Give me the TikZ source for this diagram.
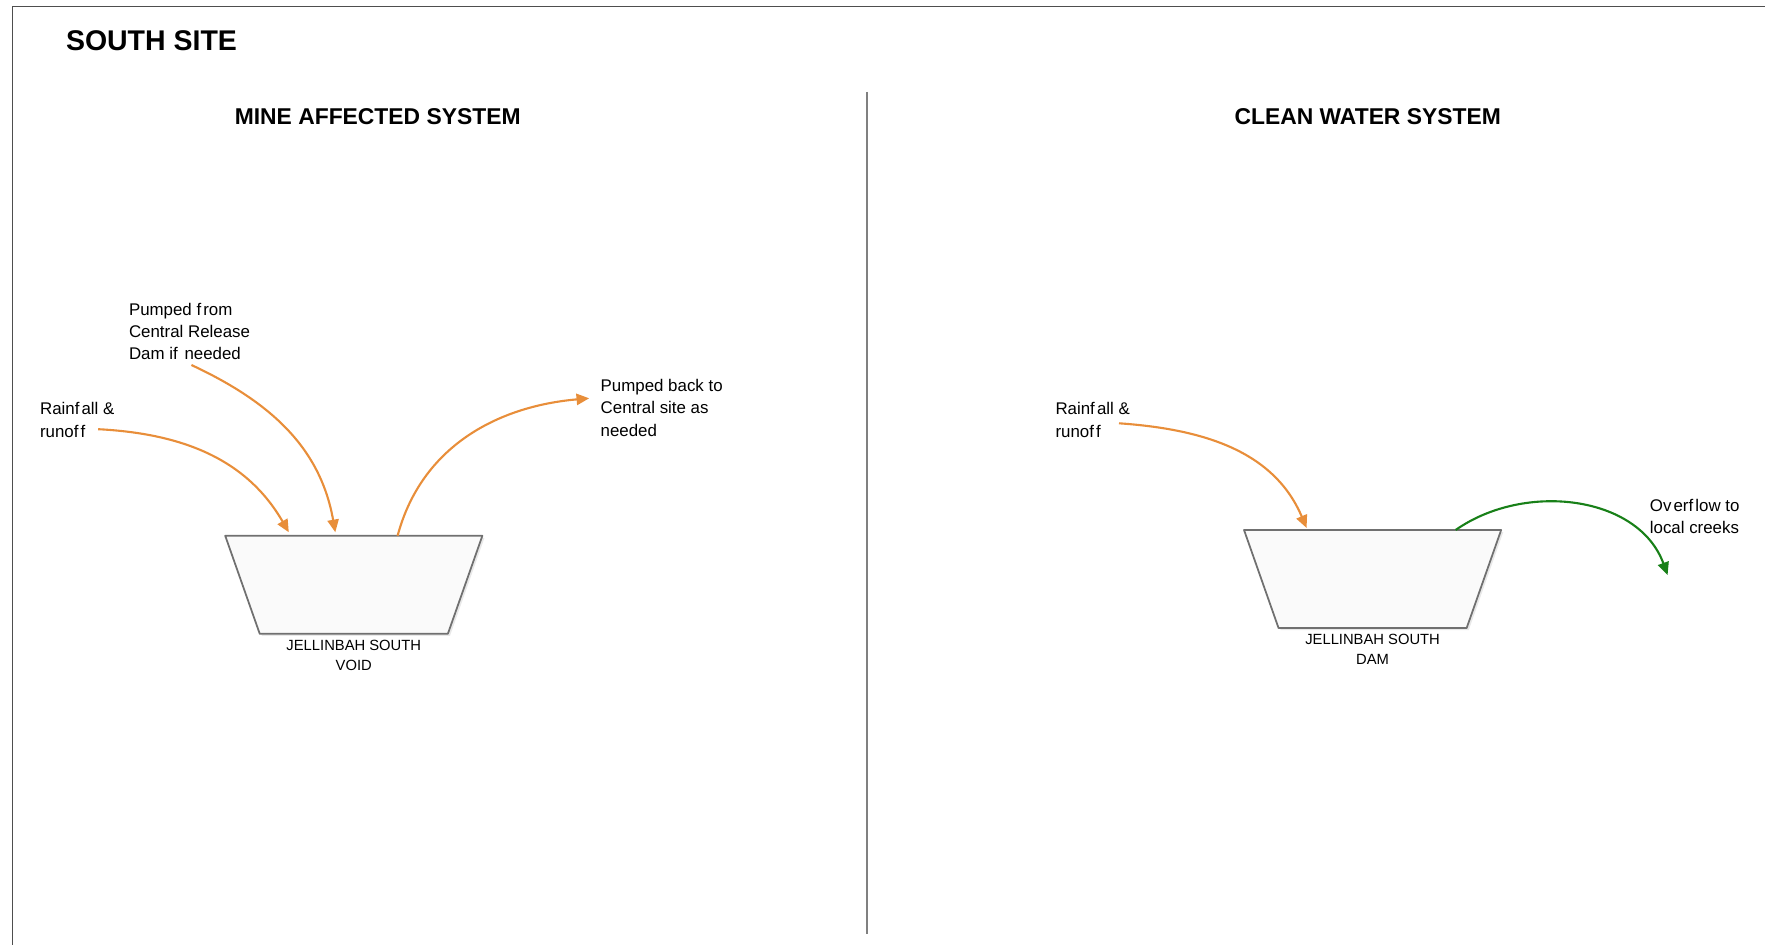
\documentclass[tikz,border=0pt]{standalone}
\usepackage{fontspec}
\setmainfont{Liberation Sans}
\usetikzlibrary{arrows.meta,positioning,shadows,calc}
\definecolor{floworange}{RGB}{232,142,58}
\definecolor{flowgreen}{RGB}{24,128,24}
\definecolor{edgegrey}{RGB}{112,112,112}
\tikzset{
  x = 0.01cm,
  y = 0.01cm,
  pondbox/.style = { % invisible box holding a storage
    rectangle,
    minimum width = 2.57cm,
    minimum height = 0.98cm,
    inner sep = 0pt,
    outer sep = 0pt,
  },
  pond/.style = { % trapezium outline, wide side up
    draw = edgegrey,
    line width = 0.5pt,
    line join = round,
    fill = black!2,
    drop shadow = {opacity=0.18, shadow xshift=0.6pt, shadow yshift=-0.6pt},
  },
  title/.style = {font=\bfseries\fontsize{8.1}{9.7}\selectfont, inner sep=0pt},
  heading/.style = {font=\bfseries\fontsize{6.5}{7.8}\selectfont, inner sep=0pt},
  flowtxt/.style = { % flow labels, left aligned
    font=\fontsize{4.8}{6.3}\selectfont,
    align=left,
    anchor=west,
    inner sep=0pt,
  },
  pondtxt/.style = {font=\fontsize{4.2}{5.6}\selectfont, align=center, inner sep=0pt},
  flow/.style = { % curved flow arrow, argument = colour
    draw = #1,
    line width = 0.6pt,
    -{Triangle[length=3.6pt,width=3.2pt]},
  },
}
\newcommand{\gap}{\kern.6pt} % odd letter gaps of the original

\begin{document}
\begin{tikzpicture}
    \useasboundingbox (0,0) rectangle (1765,945); % page size
    \draw[edgegrey!70!black, line width=0.5pt] (12.5,0) -- (12.5,938.5) -- (1765,938.5); % frame
    \draw[gray, line width=0.45pt] (867,853) -- (867,11); % divider
    % titles
    \node[title, anchor=west] (site) at (65.3,904.5) {SOUTH SITE};
    \node[heading] (mine) at (377.7,828) {MINE AFFECTED SYSTEM};
    \node[heading] (clean) at (1367.7,828) {CLEAN WATER SYSTEM};
    % storages
    \node[pondbox] (void) at (353.8,360.2) {};
    \node[pondbox] (dam) at (1372.6,366) {};
    \foreach \p in {void,dam}{ % trapezium on each box
      \draw[pond] (\p.north west) -- (\p.north east) -- ([xshift=-0.345cm]\p.south east)
        -- ([xshift=0.345cm]\p.south west) -- cycle;
    }
    \node[pondtxt, below=1.6pt of void] (voidlbl) {JELLINBAH SOUTH\\VOID};
    \node[pondtxt, below=1.6pt of dam] (damlbl) {JELLINBAH SOUTH\\DAM};
    % flow labels
    \node[flowtxt] (rainL) at (39.4,525.1) {Rainf\gap all \&\\runof\gap f};
    \node[flowtxt] (pumpin) at (128.3,613.3) {Pumped f\gap rom\\Central Release\\Dam if\gap\ needed};
    \node[flowtxt] (pumpout) at (600,537.1) {Pumped back to\\Central site as\\needed};
    \node[flowtxt] (rainR) at (1054.8,525.1) {Rainf\gap all \&\\runof\gap f};
    \node[flowtxt] (over) at (1649.2,428.3) {Ov\gap erf\gap low to\\local creeks};
    % arrow ends
    \coordinate (rainLs) at (98.2,515.8);
    \coordinate (pumpins) at (191.4,580);
    \coordinate (pumpoute) at (589.2,546.7);
    \coordinate (rainRs) at (1119,521.7);
    \coordinate (overe) at (1667.6,370);
    \coordinate (voidin1) at ($(void.north)+(-65,3.5)$);
    \coordinate (voidin2) at ($(void.north)+(-18.5,3.5)$);
    \coordinate (voidout) at ($(void.north)+(43.8,0)$);
    \coordinate (damin) at ($(dam.north)+(-66,2)$);
    \coordinate (damout) at ($(dam.north)+(83.1,0)$);
    % flows
    \draw[flow=floworange] (rainLs) to[out=-3,in=120] (voidin1);
    \draw[flow=floworange] (pumpins) to[out=-25,in=100] (voidin2);
    \draw[flow=floworange] (voidout) to[out=75,in=185] (pumpoute);
    \draw[flow=floworange] (rainRs) to[out=-4,in=113] (damin);
    \draw[flow=flowgreen] (damout) to[out=35,in=110] (overe);
\end{tikzpicture}
\end{document}
